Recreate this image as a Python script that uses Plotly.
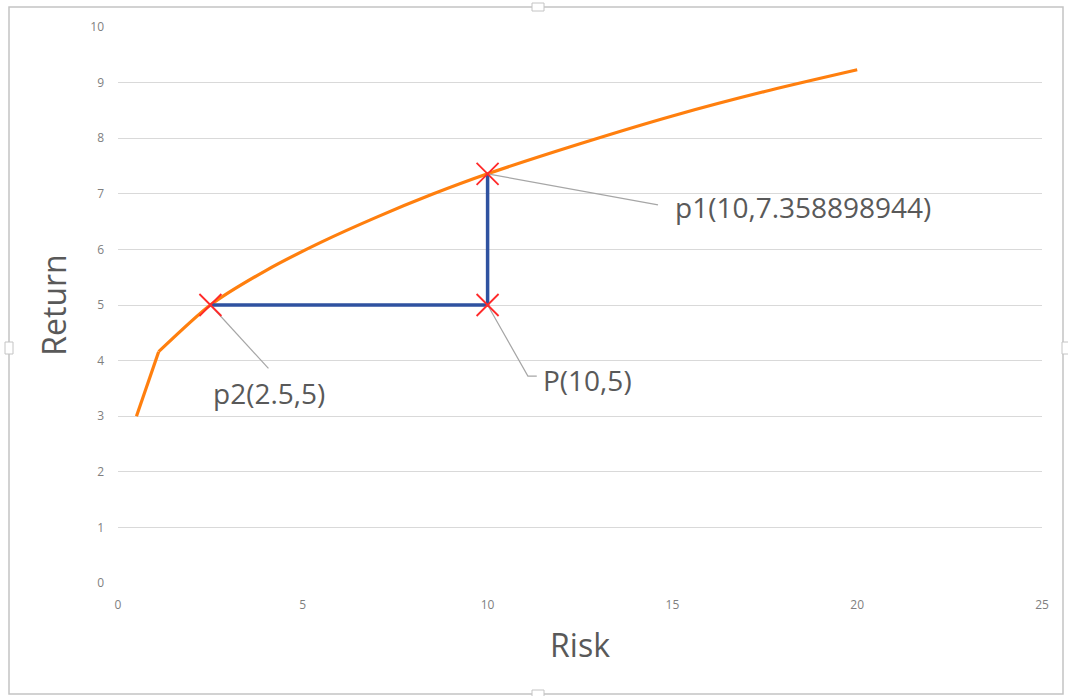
import plotly.graph_objects as go

# Efficient-frontier style curve (risk vs. return)
risk = [0.5, 1.1, 2.5, 4, 5.5, 7, 8.5, 10, 12.5, 15, 17.5, 20]
ret = [3.0, 4.16, 5.0, 5.62, 6.13, 6.58, 6.99, 7.359, 7.9, 8.4, 8.84, 9.23]

# Highlighted points
pt_x = [2.5, 10, 10]
pt_y = [5, 5, 7.358898944]
pt_names = ["p2(2.5,5)", "P(10,5)", "p1(10,7.358898944)"]

# Label anchors (data units) and leader-line elbows
label_x = [2.52, 11.44, 15.02]
label_y = [3.42, 3.66, 6.76]
leader_end = [[(4.07, 3.86)], [(11.09, 3.72), (11.33, 3.72)], [(14.61, 6.80)]]

x_ticks = [0, 5, 10, 15, 20, 25]
y_ticks = list(range(0, 11))

fig = go.Figure()

# steep opening segment, then a smooth arc
fig.add_trace(go.Scatter(
    x=risk[:2], y=ret[:2], mode="lines",
    line=dict(color="#FF7F0E", width=3.2),
    hoverinfo="skip", showlegend=False,
))
fig.add_trace(go.Scatter(
    x=risk[1:], y=ret[1:], mode="lines",
    line=dict(color="#FF7F0E", width=3.2, shape="spline", smoothing=0.7),
    hoverinfo="skip", showlegend=False,
))

# Connecting path p2 -> P -> p1
fig.add_trace(go.Scatter(
    x=pt_x, y=pt_y, mode="lines",
    line=dict(color="#2F52A0", width=3.5),
    hoverinfo="skip", showlegend=False,
))

# Leader lines from points to labels
for (px, py), elbows in zip(zip(pt_x, pt_y), leader_end):
    xs = [px] + [e[0] for e in elbows]
    ys = [py] + [e[1] for e in elbows]
    fig.add_trace(go.Scatter(
        x=xs, y=ys, mode="lines",
        line=dict(color="#A6A6A6", width=1.2),
        hoverinfo="skip", showlegend=False,
    ))

fig.add_trace(go.Scatter(
    x=pt_x, y=pt_y, mode="markers",
    marker=dict(symbol="x-thin", size=22, line=dict(color="#FF2A2A", width=1.8)),
    hoverinfo="skip", showlegend=False,
))

for name, lx, ly in zip(pt_names, label_x, label_y):
    fig.add_annotation(
        x=lx, y=ly, text=name, showarrow=False,
        xanchor="left", yanchor="middle",
        font=dict(family="Open Sans", size=28, color="#595959"),
    )

# Chart-area frame and its resize handles
W, H = 1068, 696
L, R, T, B = 118, 1042, 27, 583


def px_x(p):
    return (p - L) / (R - L)


def px_y(p):
    return (B - p) / (B - T)


shapes = [dict(type="rect", xref="paper", yref="paper",
               x0=px_x(9), x1=px_x(1063), y0=px_y(694), y1=px_y(7),
               line=dict(color="#C4C4C4", width=1.5), fillcolor="rgba(0,0,0,0)",
               layer="below")]
for cx, cy, w, h in [(538, 7, 12, 8), (538, 694, 12, 8), (9, 348, 8, 12), (1066, 348, 8, 12)]:
    shapes.append(dict(type="rect", xref="paper", yref="paper",
                       x0=px_x(cx - w / 2), x1=px_x(cx + w / 2),
                       y0=px_y(cy + h / 2), y1=px_y(cy - h / 2),
                       line=dict(color="#C4C4C4", width=1), fillcolor="white"))

fig.update_layout(
    width=W, height=H,
    margin=dict(l=L, r=W - R, t=T, b=H - B),
    paper_bgcolor="white", plot_bgcolor="white",
    shapes=shapes,
    font=dict(family="Open Sans", color="#595959"),
    xaxis=dict(
        range=[0, 25], tickvals=x_ticks, showgrid=False, zeroline=False,
        showline=False, ticks="", tickfont=dict(size=12, color="#7F7F7F"),
        ticklabelstandoff=13,
        title=dict(text="Risk", font=dict(size=32, color="#595959"), standoff=22),
    ),
    yaxis=dict(
        range=[0, 10], tickvals=y_ticks, showgrid=True, gridcolor="#D9D9D9",
        gridwidth=1, zeroline=False, showline=False, ticks="",
        tickfont=dict(size=12, color="#7F7F7F"), ticklabelstandoff=13,
        title=dict(text="Return", font=dict(size=32, color="#595959"), standoff=14),
    ),
)

fig.write_html("out.html")
